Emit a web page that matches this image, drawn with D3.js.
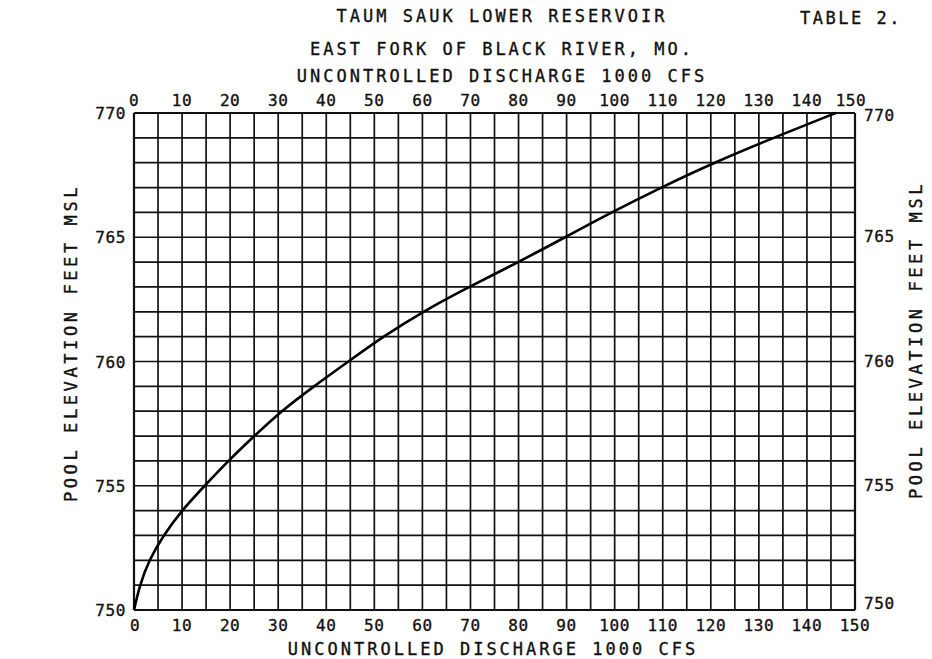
<!DOCTYPE html>
<html><head><meta charset="utf-8">
<script src="https://cdn.jsdelivr.net/npm/d3@7"></script>
<style>
html,body{margin:0;padding:0;background:#fff;}
svg text{font-family:"DejaVu Sans Mono",monospace;fill:#111;stroke:#111;stroke-width:0.35px;}
</style></head>
<body><svg id="c" width="932" height="659"></svg>
<script>
const titleLines = ["TAUM SAUK LOWER RESERVOIR", "EAST FORK OF BLACK RIVER, MO.", "UNCONTROLLED DISCHARGE 1000 CFS"];
const tableLabel = "TABLE 2.";
const xTitle = "UNCONTROLLED DISCHARGE 1000 CFS";
const yTitle = "POOL ELEVATION FEET MSL";
const xTicks = [0,10,20,30,40,50,60,70,80,90,100,110,120,130,140,150];
const yTicks = [750,755,760,765,770];
const elevation = [750,751,752,753,754,755,756,757,758,759,760,761,762,763,764,765,766,767,768,769,770];
const discharge = [0,1.2,3.1,6.1,9.9,14.7,19.6,25.0,30.6,37.4,44.6,51.8,60.0,69.7,80.0,89.7,99.3,109.6,120.6,133,146];

const svg = d3.select("#c");
const x = d3.scaleLinear().domain([0,150]).range([134,855]);
const y = d3.scaleLinear().domain([750,770]).range([610,113]);

// grid
const g = svg.append("g");
g.selectAll("line.v").data(d3.range(0,151,5)).join("line")
  .attr("x1",d=>x(d)).attr("x2",d=>x(d)).attr("y1",y(770)).attr("y2",y(750))
  .attr("stroke","#111").attr("stroke-width",d=>(d===0||d===150)?2.2:1.7);
g.selectAll("line.h").data(d3.range(750,771,1)).join("line")
  .attr("y1",d=>y(d)).attr("y2",d=>y(d)).attr("x1",x(0)).attr("x2",x(150))
  .attr("stroke","#111").attr("stroke-width",d=>(d===750||d===770)?2.2:1.7);

// curve
const pts = elevation.map((e,i)=>[discharge[i],e]);
svg.append("path").datum(pts)
  .attr("d", d3.line().x(d=>x(d[0])).y(d=>y(d[1])).curve(d3.curveBasis))
  .attr("fill","none").attr("stroke","#000").attr("stroke-width",2.6);

// titles
const tpos = [22,55,82];
svg.selectAll("text.t").data(titleLines).join("text")
  .attr("x",502).attr("y",(d,i)=>tpos[i]).attr("text-anchor","middle")
  .style("font-size","17px").style("letter-spacing","3px").text(d=>d);
svg.append("text").attr("x",800).attr("y",24)
  .style("font-size","17px").style("letter-spacing","2.5px").text(tableLabel);

// tick labels top & bottom
const tickStyle = sel => sel.style("font-size","16px").style("letter-spacing","0.6px").attr("text-anchor","middle");
svg.selectAll("text.xt").data(xTicks).join("text").call(tickStyle)
  .attr("x",d=>d===150?x(d)-4:x(d)).attr("y",106).text(d=>d);
svg.selectAll("text.xb").data(xTicks).join("text").call(tickStyle)
  .attr("x",d=>x(d)+(d===0?1:0)).attr("y",631).text(d=>d);

// y labels
svg.selectAll("text.yl").data(yTicks).join("text")
  .style("font-size","16px").style("letter-spacing","0.6px").attr("text-anchor","end")
  .attr("x",126).attr("y",d=>y(d)+6).text(d=>d);
svg.selectAll("text.yr").data(yTicks).join("text")
  .style("font-size","16px").style("letter-spacing","0.6px").attr("text-anchor","start")
  .attr("x",864).attr("y",d=>y(d)+(d===750?-1:d===770?8:5)).text(d=>d);

// axis titles
svg.append("text").attr("x",493).attr("y",655).attr("text-anchor","middle")
  .style("font-size","17px").style("letter-spacing","3px").text(xTitle);
svg.append("text").attr("transform","translate(77,343) rotate(-90)").attr("text-anchor","middle")
  .style("font-size","17px").style("letter-spacing","3.6px").text(yTitle);
svg.append("text").attr("transform","translate(922,340) rotate(-90)").attr("text-anchor","middle")
  .style("font-size","17px").style("letter-spacing","3.6px").text(yTitle);
</script></body></html>
